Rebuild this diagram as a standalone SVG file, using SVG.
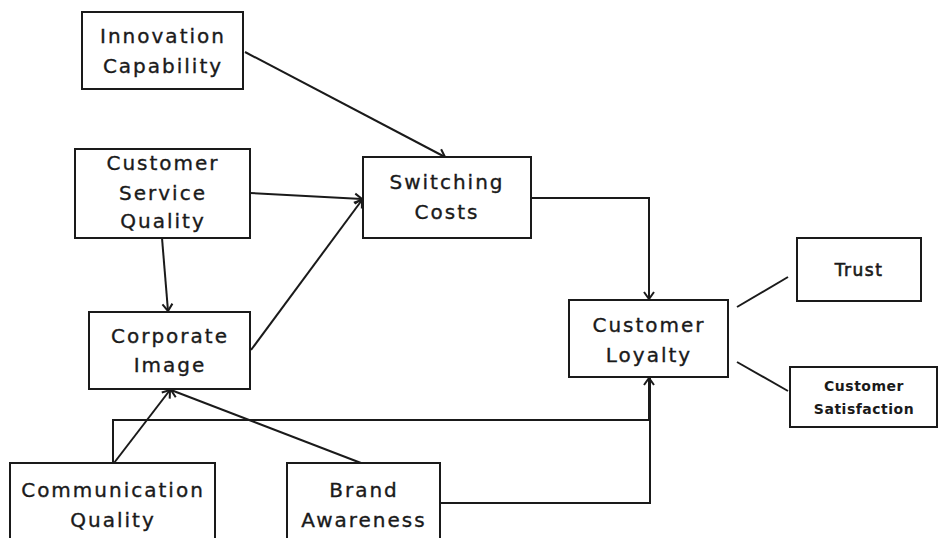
<svg xmlns="http://www.w3.org/2000/svg" width="938" height="538" viewBox="0 0 938 538">
<style>
.box{fill:#fff;stroke:#1a1a1a;stroke-width:2}
.t{font-family:"DejaVu Sans",sans-serif;font-size:20px;fill:#1a1a1a;stroke:#1a1a1a;stroke-width:0.35;text-anchor:middle;letter-spacing:2px}
.ts{font-family:"DejaVu Sans",sans-serif;font-size:17px;fill:#1a1a1a;stroke:#1a1a1a;stroke-width:0.6;text-anchor:middle;letter-spacing:1.5px}
.tx{font-family:"DejaVu Sans",sans-serif;font-size:14px;font-weight:bold;fill:#1a1a1a;text-anchor:middle;letter-spacing:0.5px}
.c{fill:none;stroke:#1a1a1a;stroke-width:2}
</style>
<defs>
<marker id="a" markerUnits="userSpaceOnUse" markerWidth="16" markerHeight="16" refX="12" refY="8" orient="auto">
<path d="M5,3 L12,8 L5,13" fill="none" stroke="#1a1a1a" stroke-width="2"/>
</marker>
</defs>
<rect width="938" height="538" fill="#fff"/>
<g id="connectors">
<line class="c" x1="245" y1="52" x2="445" y2="157" marker-end="url(#a)"/>
<line class="c" x1="250" y1="193" x2="362" y2="199" marker-end="url(#a)"/>
<line class="c" x1="251" y1="350" x2="362" y2="200" marker-end="url(#a)"/>
<line class="c" x1="162" y1="238" x2="168" y2="311" marker-end="url(#a)"/>
<line class="c" x1="114" y1="463" x2="170" y2="390" marker-end="url(#a)"/>
<line class="c" x1="361" y1="463" x2="171" y2="390" marker-end="url(#a)"/>
<polyline class="c" points="531,198 649,198 649,299" marker-end="url(#a)"/>
<polyline class="c" points="113,463 113,420 649,420 649,378" marker-end="url(#a)"/>
<polyline class="c" points="440,503 650,503 650,378"/>
<line class="c" x1="737" y1="307" x2="788" y2="277"/>
<line class="c" x1="737" y1="362" x2="788" y2="391"/>
</g>
<g id="innovation"><rect class="box" x="82" y="12" width="161" height="77"/>
<text class="t" x="163" y="43">Innovation</text><text class="t" x="163" y="73">Capability</text></g>
<g id="csq"><rect class="box" x="75" y="149" width="175" height="89"/>
<text class="t" x="163" y="170">Customer</text><text class="t" x="163" y="200">Service</text><text class="t" x="163" y="228">Quality</text></g>
<g id="switching"><rect class="box" x="363" y="157" width="168" height="81"/>
<text class="t" x="447" y="189">Switching</text><text class="t" x="447" y="219">Costs</text></g>
<g id="corporate"><rect class="box" x="89" y="312" width="161" height="77"/>
<text class="t" x="170" y="343">Corporate</text><text class="t" x="170" y="372">Image</text></g>
<g id="loyalty"><rect class="box" x="569" y="300" width="159" height="77"/>
<text class="t" x="649" y="332">Customer</text><text class="t" x="649" y="362">Loyalty</text></g>
<g id="trust"><rect class="box" x="797" y="238" width="124" height="63"/>
<text class="ts" x="859" y="276">Trust</text></g>
<g id="satisfaction"><rect class="box" x="790" y="367" width="147" height="60"/>
<text class="tx" x="864" y="391">Customer</text><text class="tx" x="864" y="414">Satisfaction</text></g>
<g id="communication"><rect class="box" x="10" y="463" width="205" height="85"/>
<text class="t" x="113" y="497">Communication</text><text class="t" x="113" y="527">Quality</text></g>
<g id="brand"><rect class="box" x="287" y="463" width="153" height="85"/>
<text class="t" x="364" y="497">Brand</text><text class="t" x="364" y="527">Awareness</text></g>
</svg>
